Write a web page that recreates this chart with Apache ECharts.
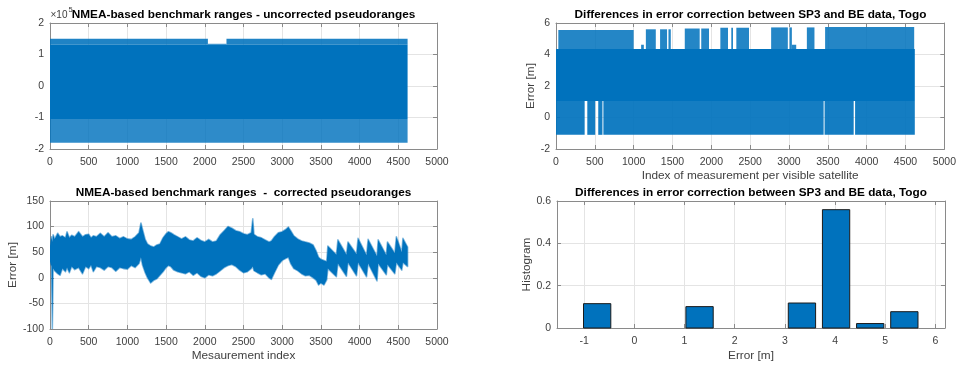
<!DOCTYPE html>
<html>
<head>
<meta charset="utf-8">
<script src="https://cdn.jsdelivr.net/npm/echarts@6/dist/echarts.min.js"></script>
<style>html,body{margin:0;padding:0;background:#fff}#c{width:959px;height:367px}</style>
</head>
<body>
<div id="c"></div>
<script>
// ================= DATA =================
// Top-left: uncorrected pseudoranges (x10^5), dense signal shown as bands [idx0, idx1, low, high]
const tlCoreBand = [[0, 4620, -1.05, 1.31]];
const tlUpperFringe = [[0, 2040, 1.31, 1.50], [2040, 2280, 1.31, 1.34], [2280, 4620, 1.31, 1.50]];
const tlLowerFringe = [[0, 4620, -1.80, -1.05]];

// Top-right: differences SP3 vs BE, bands [idx0, idx1, low, high]
const trCoreUpper = [[0, 4620, 1.05, 4.35]];
const trCoreLower = [[0, 369, -1.1, 1.05], [403, 505, -1.1, 1.05], [544, 598, -1.1, 1.05],
  [610, 3446, -1.1, 1.05], [3458, 3833, -1.1, 1.05], [3851, 4620, -1.1, 1.05]];
const trTopSegments = [[30, 1000, 4.35, 5.55], [1096, 1131, 4.35, 4.62], [1157, 1285, 4.35, 5.60],
  [1340, 1430, 4.35, 5.60], [1448, 1478, 4.35, 5.60], [1658, 1850, 4.35, 5.65], [1870, 1970, 4.35, 5.65],
  [2116, 2215, 4.35, 5.70], [2257, 2279, 4.35, 5.70], [2322, 2485, 4.35, 5.70], [2770, 2985, 4.35, 5.72],
  [3007, 3037, 4.35, 5.72], [3037, 3093, 4.35, 4.62], [3230, 3328, 4.35, 5.72], [3465, 4612, 4.35, 5.75]];

// Bottom-left: corrected pseudoranges, envelope of the noisy trace
const blIdx = [0, 20, 30, 40, 60, 100, 130, 160, 200, 220, 250, 280, 320, 370, 420, 460, 500, 530, 560, 600,
  650, 700, 750, 800, 850, 900, 950, 1000, 1050, 1100, 1150, 1175, 1195, 1230, 1260, 1300, 1340, 1380, 1420, 1460,
  1500, 1530, 1560, 1600, 1650, 1700, 1750, 1800, 1850, 1900, 1950, 2000, 2050, 2100, 2150, 2200, 2250, 2300, 2350, 2400,
  2450, 2500, 2550, 2600, 2620, 2635, 2680, 2730, 2780, 2830, 2860, 2900, 2950, 3000, 3050, 3080, 3110, 3150, 3200, 3250,
  3300, 3350, 3400, 3440, 3470, 3500, 3540, 3575, 3590, 3700, 3720, 3830, 3850, 3960, 3980, 4090, 4110, 4225, 4240, 4345,
  4360, 4455, 4475, 4545, 4560, 4620];
const blLow = [32, 22, -100, 18, 14, 8, 5, 18, 12, 20, 10, 22, 16, 20, 8, 22, 18, 25, 12, 22,
  20, 15, 22, 20, 13, 20, 18, 17, 24, 20, 28, 40, 25, 10, 0, -10, -5, -2, 5, 12,
  20, 24, 22, 15, 12, 10, 8, 12, 5, 10, 3, 0, 6, 4, 8, 14, 20, 24, 26, 22,
  15, 10, 12, 18, 22, 14, 10, 6, 8, 0, -3, 10, 25, 34, 38, 40, 28, 18, 14, 8,
  4, 5, 0, -5, -14, -10, -14, -4, 18, 2, 28, 3, 30, 4, 30, 2, 28, -6, 28, 6,
  26, 8, 30, 15, 30, 22];
const blHigh = [62, 80, 70, 84, 76, 87, 80, 82, 78, 90, 78, 83, 80, 90, 80, 84, 85, 78, 82, 80,
  87, 80, 88, 80, 82, 77, 80, 76, 75, 80, 88, 107, 95, 75, 66, 62, 60, 64, 66, 78,
  86, 90, 88, 84, 80, 76, 80, 74, 72, 78, 73, 70, 75, 70, 72, 84, 92, 100, 97, 92,
  90, 86, 84, 88, 115, 85, 80, 78, 74, 70, 72, 80, 88, 90, 95, 99, 92, 82, 76, 72,
  70, 68, 64, 52, 40, 36, 34, 32, 62, 45, 74, 45, 70, 46, 77, 44, 75, 42, 74, 44,
  70, 48, 80, 50, 77, 60];

// Bottom-right: histogram (normalised) of the differences
const brBinCenters = [-0.74, -0.06, 0.62, 1.30, 1.98, 2.66, 3.34, 4.02, 4.70, 5.38];
const brBinValues = [0.115, 0, 0, 0.101, 0, 0, 0.118, 0.559, 0.021, 0.077];
const brBinWidth = 0.68;

// Texts
const titles = ['NMEA-based benchmark ranges - uncorrected pseudoranges',
  'Differences in error correction between SP3 and BE data, Togo',
  'NMEA-based benchmark ranges  -  corrected pseudoranges',
  'Differences in error correction between SP3 and BE data, Togo'];

// ================= CHART =================
const BLUE = '#0072BD';
const BOX = '#8a8a8a';
const GRIDC = '#e4e4e4';
const LBL = '#404040';
const FONT = '"Liberation Sans", Arial, Helvetica, sans-serif';

const grids = [
  {left: 50, top: 23, width: 387, height: 126},
  {left: 556, top: 23, width: 389, height: 126},
  {left: 50, top: 201, width: 387, height: 128},
  {left: 557, top: 201, width: 388, height: 127}
];

function axisBase(gi, main, pos) {
  return {
    type: 'value', gridIndex: gi, position: pos,
    axisLine: {show: true, onZero: false, lineStyle: {color: BOX, width: 1}},
    axisTick: {show: true, inside: true, length: 4, lineStyle: {color: BOX}},
    axisLabel: {show: main, color: LBL, fontSize: 10.5, fontFamily: FONT, formatter: v => String(v)},
    splitLine: {show: main, lineStyle: {color: GRIDC, width: 1}},
    nameTextStyle: {color: LBL, fontSize: 11.8, fontFamily: FONT}
  };
}
function mk(base, extra) {
  const o = Object.assign({}, base, extra);
  if (extra.axisLabel) o.axisLabel = Object.assign({}, base.axisLabel, extra.axisLabel);
  else o.axisLabel = Object.assign({}, base.axisLabel);
  return o;
}

const xCfg = [
  {min: 0, max: 5000, interval: 500},
  {min: 0, max: 5000, interval: 500, name: 'Index of measurement per visible satellite', nameLocation: 'middle', nameGap: 21},
  {min: 0, max: 5000, interval: 500, name: 'Mesaurement index', nameLocation: 'middle', nameGap: 21},
  {min: -1.54, max: 6.19, minInterval: 1, maxInterval: 1, name: 'Error [m]', nameLocation: 'middle', nameGap: 22,
    axisLabel: {formatter: v => (Math.abs(v - Math.round(v)) < 1e-6 ? String(Math.round(v)) : '')}}
];
const yCfg = [
  {min: -2, max: 2, interval: 1},
  {min: -2, max: 6, interval: 2, name: 'Error [m]', nameLocation: 'middle', nameGap: 13},
  {min: -100, max: 150, interval: 50, name: 'Error [m]', nameLocation: 'middle', nameGap: 24},
  {min: 0, max: 0.6, interval: 0.2, name: 'Histogram', nameLocation: 'middle', nameGap: 21}
];

const xAxis = [], yAxis = [];
for (let i = 0; i < 4; i++) {
  const xm = mk(axisBase(i, true, 'bottom'), xCfg[i]); xm.axisLabel.margin = 8;
  const xs = mk(axisBase(i, false, 'top'), Object.assign({}, xCfg[i], {name: '', axisLabel: {show: false}}));
  const ym = mk(axisBase(i, true, 'left'), yCfg[i]); ym.axisLabel.margin = 6;
  const ys = mk(axisBase(i, false, 'right'), Object.assign({}, yCfg[i], {name: '', axisLabel: {show: false}}));
  xAxis.push(xm, xs); yAxis.push(ym, ys);
}

function bandSeries(gi, data, color) {
  return {
    type: 'custom', xAxisIndex: 2 * gi, yAxisIndex: 2 * gi, clip: true, silent: true,
    data: data, encode: {x: [0, 1], y: [2, 3]},
    renderItem: function (params, api) {
      const p0 = api.coord([api.value(0), api.value(3)]);
      const p1 = api.coord([api.value(1), api.value(2)]);
      return {type: 'rect', shape: {x: p0[0], y: p0[1], width: p1[0] - p0[0], height: p1[1] - p0[1]},
        style: {fill: color}};
    }
  };
}

// envelope polygon for the bottom-left trace: upper edge forward, lower edge back
const blData = blIdx.map((x, i) => [x, blLow[i], blHigh[i]]);
const blSeries = {
  type: 'custom', xAxisIndex: 4, yAxisIndex: 4, clip: true, silent: true,
  data: blData, encode: {x: 0, y: [1, 2]},
  renderItem: function (params, api) {
    if (params.dataIndex !== 0) return null;
    const pts = [];
    for (let i = 0; i < blData.length; i++) pts.push(api.coord([blData[i][0], blData[i][2]]));
    for (let i = blData.length - 1; i >= 0; i--) pts.push(api.coord([blData[i][0], blData[i][1]]));
    return {type: 'polygon', shape: {points: pts},
      style: {fill: BLUE, stroke: 'rgba(0,114,189,0.5)', lineWidth: 1.6, lineJoin: 'round'}};
  }
};

const series = [
  bandSeries(0, tlCoreBand, BLUE),
  bandSeries(0, tlUpperFringe, 'rgba(0,114,189,0.88)'),
  bandSeries(0, tlLowerFringe, 'rgba(0,114,189,0.82)'),
  bandSeries(1, trCoreUpper, BLUE),
  bandSeries(1, trCoreLower, 'rgba(0,114,189,0.92)'),
  bandSeries(1, trTopSegments, 'rgba(0,114,189,0.86)'),
  blSeries,
  {
    type: 'custom', xAxisIndex: 6, yAxisIndex: 6, silent: true,
    data: brBinCenters.map((c, i) => [c, brBinValues[i]]),
    encode: {x: 0, y: 1},
    renderItem: function (params, api) {
      const v = api.value(1);
      if (!(v > 0)) return null;
      const c = api.value(0);
      const pTop = api.coord([c - brBinWidth * 0.4, v]);
      const pBot = api.coord([c + brBinWidth * 0.4, 0]);
      return {type: 'rect', shape: {x: pTop[0], y: pTop[1], width: pBot[0] - pTop[0], height: pBot[1] - pTop[1]},
        style: {fill: BLUE, stroke: '#1a1a1a', lineWidth: 1}};
    }
  }
];

const titleCenters = [[243.5, 14.5], [750.5, 14.5], [243.5, 193], [751, 193]];
const graphic = [
  {type: 'text', x: 50.5, y: 15.5, style: {text: '×10', font: '10px ' + FONT, fill: LBL, textAlign: 'left', textVerticalAlign: 'middle'}},
  {type: 'text', x: 68.5, y: 10, style: {text: '5', font: '7.5px ' + FONT, fill: LBL, textAlign: 'left', textVerticalAlign: 'middle'}}
];
titles.forEach((t, i) => graphic.push({type: 'text', x: titleCenters[i][0], y: titleCenters[i][1], z: 10,
  style: {text: t, font: 'bold 11.8px ' + FONT, fill: '#000', textAlign: 'center', textVerticalAlign: 'middle'}}));

const chart = echarts.init(document.getElementById('c'), null, {renderer: 'canvas'});
chart.setOption({
  animation: false,
  backgroundColor: '#fff',
  grid: grids,
  xAxis: xAxis,
  yAxis: yAxis,
  series: series,
  graphic: graphic
});
</script>
</body>
</html>
